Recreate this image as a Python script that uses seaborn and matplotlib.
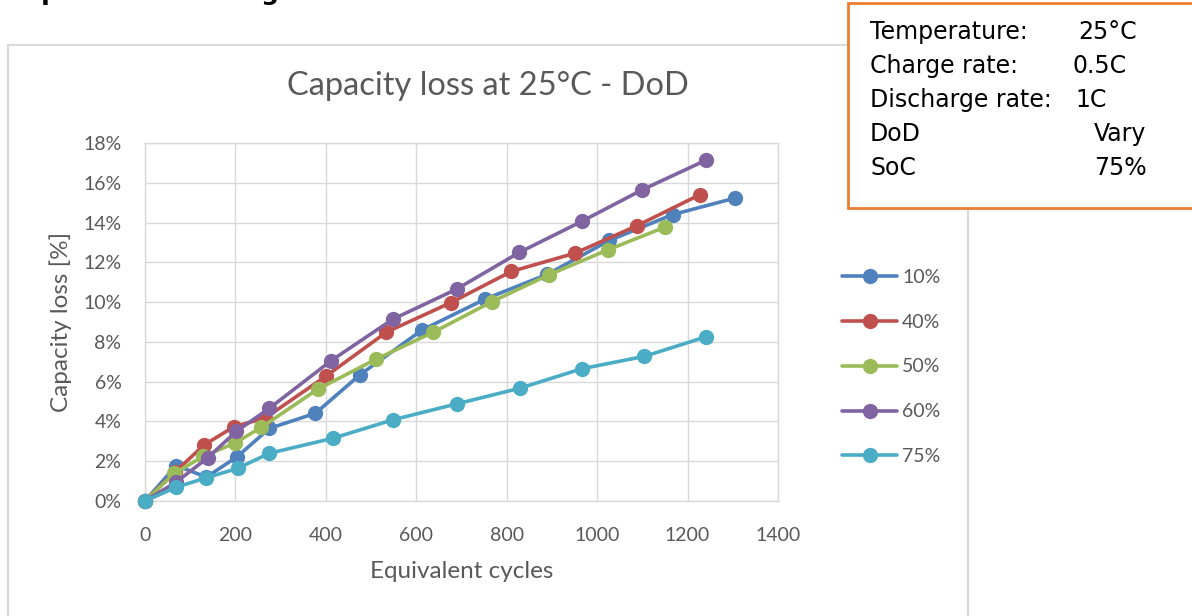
import matplotlib
matplotlib.use("Agg")
import matplotlib.pyplot as plt
import numpy as np
import pandas as pd
import seaborn as sns
from matplotlib.lines import Line2D
from matplotlib.patches import Rectangle
from matplotlib.ticker import FuncFormatter

# Capacity loss (%) versus equivalent full cycles for each depth of discharge
dod_labels = ["10%", "40%", "50%", "60%", "75%"]

cycles_10 = [0, 69, 136, 204, 275, 377, 475, 613, 752, 890, 1027, 1167, 1305]
loss_10 = [0, 1.78, 1.20, 2.23, 3.65, 4.41, 6.34, 8.60, 10.15, 11.40, 13.10, 14.40, 15.23]

cycles_40 = [0, 66, 131, 197, 265, 401, 534, 677, 810, 951, 1088, 1227]
loss_40 = [0, 1.45, 2.82, 3.74, 4.16, 6.29, 8.49, 9.98, 11.54, 12.46, 13.84, 15.40]

cycles_50 = [0, 65, 129, 198, 257, 382, 511, 638, 768, 893, 1024, 1150]
loss_50 = [0, 1.39, 2.25, 2.90, 3.70, 5.62, 7.13, 8.49, 10.03, 11.37, 12.63, 13.77]

cycles_60 = [0, 69, 139, 202, 275, 412, 548, 689, 828, 966, 1100, 1240]
loss_60 = [0, 0.95, 2.18, 3.50, 4.66, 7.06, 9.14, 10.65, 12.50, 14.06, 15.65, 17.13]

cycles_75 = [0, 69, 136, 205, 275, 415, 548, 689, 829, 966, 1104, 1240]
loss_75 = [0, 0.69, 1.17, 1.64, 2.40, 3.15, 4.08, 4.88, 5.67, 6.65, 7.27, 8.25]

x_ticks = [0, 200, 400, 600, 800, 1000, 1200, 1400]
y_ticks = [0, 2, 4, 6, 8, 10, 12, 14, 16, 18]

settings_names = ["Temperature:", "Charge rate:", "Discharge rate:", "DoD", "SoC"]
settings_values = ["25°C", "0.5C", "1C", "Vary", "75%"]

colors = ["#4f81bd", "#c0504d", "#9bbb59", "#8064a2", "#4bacc6"]

series = [(cycles_10, loss_10), (cycles_40, loss_40), (cycles_50, loss_50),
          (cycles_60, loss_60), (cycles_75, loss_75)]
df = pd.concat(
    [pd.DataFrame({"cycles": c, "loss": l, "DoD": lab})
     for (c, l), lab in zip(series, dod_labels)],
    ignore_index=True,
)

sns.set_style("white")
plt.rcParams["font.family"] = ["Lato", "DejaVu Sans"]

W, H = 1192, 616
fig = plt.figure(figsize=(W / 100, H / 100), dpi=100)
fig.patch.set_facecolor("white")


def fx(px):
    return px / W


def fy(py):
    return 1 - py / H


# chart area frame
fig.add_artist(Rectangle((fx(8), fy(640)), fx(968) - fx(8), fy(45) - fy(640),
                         transform=fig.transFigure, fill=False,
                         edgecolor="#d9d9d9", linewidth=1.5, zorder=0))

ax = fig.add_axes([fx(145), fy(501), fx(778) - fx(145), fy(143) - fy(501)])
ax.set_facecolor("white")

sns.lineplot(data=df, x="cycles", y="loss", hue="DoD", hue_order=dod_labels,
             palette=colors, estimator=None, sort=False, marker="o",
             markersize=11, markeredgewidth=0, linewidth=2.6,
             legend=False, ax=ax, zorder=3)
for ln in ax.lines:
    ln.set_clip_on(False)

ax.set_xlim(0, 1400)
ax.set_ylim(0, 18)
ax.set_xticks(x_ticks)
ax.set_yticks(y_ticks)
ax.yaxis.set_major_formatter(FuncFormatter(lambda v, p: f"{v:.0f}%"))
ax.grid(True, color="#d9d9d9", linewidth=1.0)
ax.set_axisbelow(True)
for sp in ax.spines.values():
    sp.set_color("#d9d9d9")
    sp.set_linewidth(1.0)
ax.tick_params(axis="both", length=0, labelsize=14, labelcolor="#595959")
ax.tick_params(axis="x", pad=19)
ax.tick_params(axis="y", pad=17)

ax.set_xlabel("Equivalent cycles", fontsize=17.5, color="#595959", labelpad=12)
ax.set_ylabel("Capacity loss [%]", fontsize=17.5, color="#595959", labelpad=8)

fig.text(fx(488), fy(95), "Capacity loss at 25°C - DoD", ha="center",
         va="baseline", fontsize=23.5, color="#595959")

handles = [Line2D([], [], color=c, linewidth=2.6, marker="o", markersize=11,
                  markeredgewidth=0) for c in colors]
fig.legend(handles, dod_labels, loc="center left",
           bbox_to_anchor=(fx(842), fy(367)), bbox_transform=fig.transFigure,
           frameon=False, fontsize=14, labelcolor="#595959", borderpad=0,
           borderaxespad=0, handlelength=2.85, handletextpad=0.25,
           labelspacing=1.43)

# experiment settings box
fig.add_artist(Rectangle((fx(848), fy(208)), fx(1210) - fx(848), fy(3) - fy(208),
                         transform=fig.transFigure, facecolor="white",
                         edgecolor="#ed7d31", linewidth=2.0, zorder=5))
value_x = [1078, 1073, 1075, 1094, 1094]
for i, (name, val) in enumerate(zip(settings_names, settings_values)):
    by = 39 + 34 * i
    fig.text(fx(870), fy(by), name, fontsize=17, family="DejaVu Sans",
             color="black", va="baseline", zorder=6)
    fig.text(fx(value_x[i]), fy(by), val, fontsize=17, family="DejaVu Sans",
             color="black", va="baseline", zorder=6)

# section heading running off the top edge
fig.text(fx(8), fy(-0.5), "Experiment settings", fontsize=18,
         fontweight="bold", family="DejaVu Sans", color="black", va="baseline")

fig.savefig("out.png", dpi=100, facecolor="white")
